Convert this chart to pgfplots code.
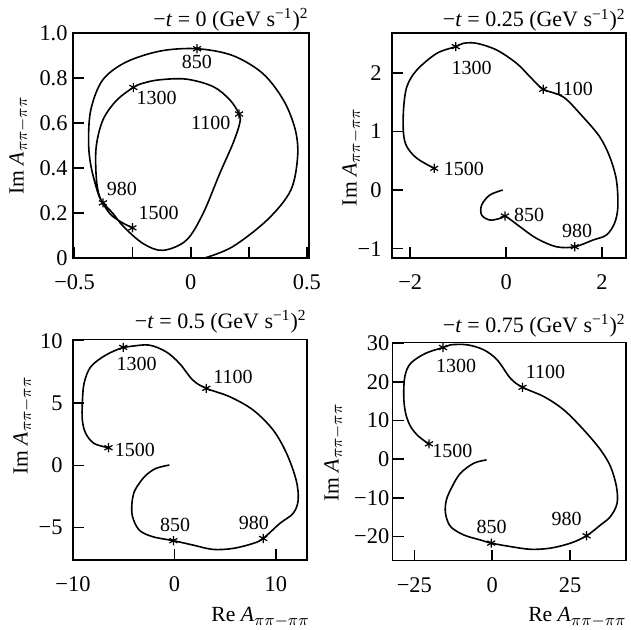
\documentclass[border=0pt]{standalone}
\usepackage{fontspec}
\setmainfont{Liberation Serif}
\usepackage{pgfplots}
\pgfplotsset{compat=1.18}
\pgfplotsset{
  argand/.style={
    scale only axis,
    clip=false,
    anchor=north west,
    axis line style={line width=0.75pt},
    tick style={line width=0.75pt, black},
    major tick length=5.5pt,
    tick align=inside,
    tick pos=left,
    tick label style={font=\fontsize{11.2}{13}\selectfont},
    xticklabel style={yshift=-5pt},
    every axis title/.style={at={(axis description cs:1,1)}, anchor=base east, inner sep=0pt, font=\fontsize{11}{13}\selectfont},
    ylabel style={anchor=center, inner sep=0pt, font=\fontsize{10.8}{13}\selectfont},
    xlabel style={anchor=east, inner sep=0pt, font=\fontsize{10.8}{13}\selectfont},
    ylabel={Im \textit{A}$_{\pi\pi-\pi\pi}$},
  },
  curve/.style={smooth, tension=0.55, no marks, line width=0.8pt, black},
  pts/.style={only marks, mark=asterisk, mark size=2.3pt, black, mark options={line width=0.6pt}},
}
\begin{document}
\begin{tikzpicture}
\useasboundingbox (0pt,0pt) rectangle (315.5pt,-315pt);
% ---------------- panel 1 ----------------
\begin{axis}[argand,
  at={(36.5pt,-16.5pt)}, width=118pt, height=112.5pt,
  xmin=-0.507, xmax=0.509, ymin=0, ymax=1,
  xtick={-0.5,-0.25,0,0.25,0.5}, xticklabels={−0.5,,0,,0.5},
  ytick={0,0.2,0.4,0.6,0.8,1.0}, yticklabels={0,0.2,0.4,0.6,0.8,1.0},
  yticklabel style={xshift=0.8pt},
  ylabel style={at={(axis description cs:-0.229,0.5)}},
  title style={yshift=3.3pt},
  title={−\textit{t} = 0 (GeV s\textsuperscript{−1})\textsuperscript{2}}]
\addplot[curve] coordinates {
(0.06,0.0) (0.18,0.05) (0.33,0.17) (0.43,0.30) (0.46,0.45) (0.45,0.57) (0.40,0.70)
(0.31,0.82) (0.18,0.90) (0.027,0.93) (-0.13,0.92) (-0.28,0.87) (-0.38,0.79)
(-0.43,0.66) (-0.44,0.52) (-0.43,0.41) (-0.40,0.29) (-0.378,0.245) (-0.335,0.198)
(-0.29,0.14) (-0.205,0.064) (-0.12,0.034) (-0.019,0.079) (0.053,0.198)
(0.125,0.376) (0.182,0.51) (0.211,0.60) (0.208,0.64) (0.168,0.703) (0.096,0.762)
(-0.019,0.795) (-0.134,0.792) (-0.205,0.777) (-0.247,0.758) (-0.32,0.70)
(-0.378,0.614) (-0.407,0.495) (-0.407,0.361) (-0.392,0.272) (-0.349,0.198)
(-0.30,0.16) (-0.251,0.134)};
\addplot[pts] coordinates {(0.027,0.93) (-0.378,0.245) (0.208,0.64) (-0.247,0.758) (-0.251,0.134)};
\node at (axis cs:0.026,0.871) {850};
\node at (axis cs:-0.147,0.711) {1300};
\node at (axis cs:0.086,0.60) {1100};
\node at (axis cs:-0.297,0.307) {980};
\node at (axis cs:-0.138,0.20) {1500};
\end{axis}
% ---------------- panel 2 ----------------
\begin{axis}[argand,
  at={(196pt,-16.5pt)}, width=117pt, height=112.5pt,
  xmin=-2.38, xmax=2.5, ymin=-1.16, ymax=2.68,
  xtick={-2,0,2}, xticklabels={−2,0,2},
  ytick={-1,0,1,2}, yticklabels={−1,0,1,2},
  yticklabel style={xshift=-1.7pt},
  ylabel style={at={(axis description cs:-0.171,0.449)}},
  title style={yshift=3pt},
  title={−\textit{t} = 0.25 (GeV s\textsuperscript{−1})\textsuperscript{2}}]
\addplot[curve] coordinates {
(-0.07,0.0) (-0.34,-0.085) (-0.51,-0.256) (-0.51,-0.427) (-0.34,-0.512)
(-0.128,-0.484) (-0.024,-0.444) (0.288,-0.626) (0.634,-0.825) (1.05,-0.968)
(1.43,-0.968) (1.81,-0.854) (2.09,-0.768) (2.26,-0.569) (2.33,-0.285)
(2.30,0.171) (2.16,0.569) (1.95,0.91) (1.60,1.25) (1.19,1.59) (0.773,1.72)
(0.496,1.935) (0.218,2.163) (-0.198,2.39) (-0.614,2.504) (-0.89,2.504)
(-1.05,2.447) (-1.445,2.333) (-1.86,2.05) (-2.07,1.764) (-2.14,1.366)
(-2.14,0.968) (-2.07,0.74) (-1.86,0.541) (-1.50,0.37)};
\addplot[pts] coordinates {(-0.024,-0.444) (1.43,-0.968) (0.773,1.72) (-1.05,2.447) (-1.50,0.37)};
\node at (axis cs:-0.72,2.09) {1300};
\node at (axis cs:1.40,1.72) {1100};
\node at (axis cs:-0.88,0.36) {1500};
\node at (axis cs:0.48,-0.43) {850};
\node at (axis cs:1.48,-0.69) {980};
\end{axis}
% ---------------- panel 3 ----------------
\begin{axis}[argand,
  at={(36.5pt,-169.75pt)}, width=117pt, height=110.25pt,
  xmin=-10, xmax=13.07, ymin=-7.59, ymax=10.1,
  xtick={-10,0,10}, xticklabels={−10,0,10},
  ytick={-5,0,5,10}, yticklabels={−5,0,5,10},
  yticklabel style={xshift=-1.7pt},
  ylabel style={at={(axis description cs:-0.214,0.61)}},
  xlabel={Re \textit{A}$_{\pi\pi-\pi\pi}$},
  xlabel style={at={(axis description cs:1.013,-0.26)}},
  title style={yshift=5.5pt},
  title={−\textit{t} = 0.5 (GeV s\textsuperscript{−1})\textsuperscript{2}}]
\addplot[curve] coordinates {
(-0.5,0.03) (-1.82,-0.24) (-2.8,-0.78) (-3.47,-1.44) (-3.96,-2.11) (-4.19,-3.05)
(-4.13,-4.12) (-3.47,-5.19) (-2.15,-5.72) (-0.1,-6.04) (1.82,-6.39) (3.8,-6.74)
(5.78,-6.66) (7.76,-6.26) (8.75,-5.86) (10.4,-4.65) (11.7,-3.85) (12.2,-2.78)
(12.0,-1.18) (11.06,0.96) (9.74,2.83) (7.76,4.44) (5.45,5.51) (3.14,6.18)
(1.82,6.84) (0.5,8.18) (-0.83,9.12) (-2.48,9.65) (-4.13,9.57) (-5.05,9.47)
(-6.77,8.85) (-8.25,7.91) (-8.91,6.58) (-9.08,4.97) (-9.08,3.64) (-8.75,2.57)
(-7.92,1.76) (-6.5,1.42)};
\addplot[pts] coordinates {(-0.1,-6.04) (8.75,-5.86) (3.14,6.18) (-5.05,9.47) (-6.5,1.42)};
\node at (axis cs:-3.73,8.13) {1300};
\node at (axis cs:5.78,7.06) {1100};
\node at (axis cs:-3.89,1.23) {1500};
\node at (axis cs:0.07,-4.79) {850};
\node at (axis cs:7.82,-4.6) {980};
\end{axis}
% ---------------- panel 4 ----------------
\begin{axis}[argand,
  at={(196.35pt,-171.35pt)}, width=116.65pt, height=108.9pt,
  xmin=-31.95, xmax=42.97, ymin=-26.2, ymax=30.15,
  xtick={-25,0,25}, xticklabels={−25,0,25},
  ytick={-20,-10,0,10,20,30}, yticklabels={−20,−10,0,10,20,30},
  yticklabel style={xshift=1.8pt},
  ylabel style={at={(axis description cs:-0.252,0.496)}},
  xlabel={Re \textit{A}$_{\pi\pi-\pi\pi}$},
  xlabel style={at={(axis description cs:1.004,-0.26)}},
  title style={yshift=5.3pt},
  title={−\textit{t} = 0.75 (GeV s\textsuperscript{−1})\textsuperscript{2}}]
\addplot[curve] coordinates {
(-1.8,-0.17) (-5.9,-1.03) (-10.2,-3.62) (-12.85,-7.07) (-14.7,-10.5) (-15.0,-13.97)
(-13.4,-17.4) (-9.1,-19.6) (-3.75,-20.9) (-0.32,-21.7) (5.9,-22.6) (12.3,-23.3)
(18.7,-23.0) (25.2,-21.7) (30.3,-19.8) (34.8,-17.0) (38.0,-14.8) (40.1,-11.4)
(39.9,-7.07) (38.0,-1.9) (34.8,2.41) (29.4,7.59) (23.0,12.76) (16.6,16.2)
(9.74,18.6) (5.9,20.9) (1.6,25.7) (-2.7,28.3) (-8.0,29.6) (-13.4,29.6)
(-15.8,28.9) (-21.4,27.4) (-26.2,24.8) (-28.05,21.4) (-28.4,16.2) (-27.8,11.9)
(-26.2,8.45) (-23.55,5.86) (-20.3,3.97)};
\addplot[pts] coordinates {(-0.32,-21.7) (30.3,-19.8) (9.74,18.6) (-15.8,28.9) (-20.3,3.97)};
\node at (axis cs:-11.6,24.2) {1300};
\node at (axis cs:17.1,22.5) {1100};
\node at (axis cs:-12.8,2.24) {1500};
\node at (axis cs:-0.2,-17.6) {850};
\node at (axis cs:23.9,-15.4) {980};
\end{axis}
\end{tikzpicture}
\end{document}
